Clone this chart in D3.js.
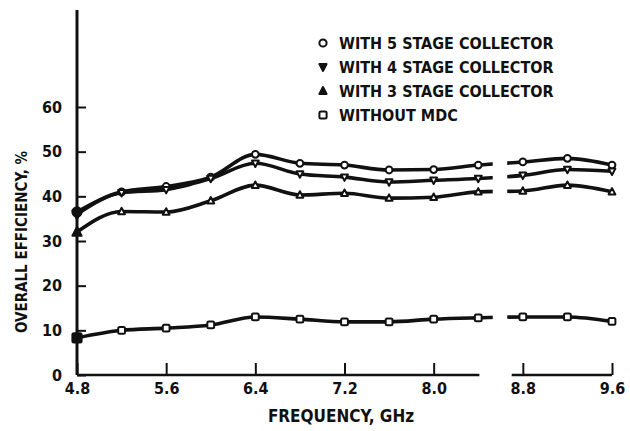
<!DOCTYPE html>
<html>
<head>
<meta charset="utf-8">
<script src="https://cdn.jsdelivr.net/npm/d3@7/dist/d3.min.js"></script>
<style>
  html, body { margin: 0; padding: 0; background: #fff; }
  svg text { font-family: 'DejaVu Sans Condensed', 'DejaVu Sans', sans-serif; font-stretch: condensed; font-weight: bold; fill: #111; }
</style>
</head>
<body>
<div id="chart"></div>
<script>
// Frequency points (GHz)
const freqs = [4.8, 5.2, 5.6, 6.0, 6.4, 6.8, 7.2, 7.6, 8.0, 8.4, 8.8, 9.2, 9.6];

// Overall efficiency (%) for each collector configuration
const stage5 = [36.5, 41, 42.2, 44.3, 49.4, 47.4, 47, 45.9, 46, 47, 47.7, 48.5, 47];
const stage4 = [36, 40.8, 41.5, 44, 47.4, 45, 44.3, 43.2, 43.6, 44, 44.7, 46, 45.6];
const stage3 = [32, 36.6, 36.5, 39, 42.5, 40.3, 40.7, 39.6, 39.8, 41, 41.2, 42.5, 41];
const noMdc  = [8.3, 10, 10.5, 11.2, 13, 12.5, 11.9, 11.9, 12.5, 12.8, 13, 13, 12];

const seriesNames = ['WITH 5 STAGE COLLECTOR', 'WITH 4 STAGE COLLECTOR', 'WITH 3 STAGE COLLECTOR', 'WITHOUT MDC'];
const seriesSymbols = ['circle', 'down', 'up', 'square'];

const xTicks = [4.8, 5.6, 6.4, 7.2, 8.0, 8.8, 9.6];
const yTicks = [0, 10, 20, 30, 40, 50, 60];

// broken-axis gaps (GHz)
const axisGap = [8.41, 8.70];
const lineGap = [8.53, 8.66];

const width = 630, height = 431;

const svg = d3.select('#chart').append('svg')
  .attr('width', width)
  .attr('height', height);

const x = d3.scaleLinear().domain([4.8, 9.6]).range([77, 612]);
const y = d3.scaleLinear().domain([0, 60]).range([375, 107]);

// Y axis
const yAxis = svg.append('g')
  .attr('transform', `translate(${x(4.8)},0)`)
  .call(d3.axisLeft(y).tickValues(yTicks).tickSizeInner(-9).tickSizeOuter(0).tickPadding(15));
yAxis.select('.domain').remove();
yAxis.selectAll('.tick line').attr('stroke', '#111').attr('stroke-width', 2);
yAxis.selectAll('.tick text').style('font-size', '16px');
svg.append('line')
  .attr('x1', x(4.8)).attr('x2', x(4.8))
  .attr('y1', 10).attr('y2', y(0))
  .attr('stroke', '#111').attr('stroke-width', 3);

// X axis
const xAxis = svg.append('g')
  .attr('transform', `translate(0,${y(0)})`)
  .call(d3.axisBottom(x).tickValues(xTicks).tickFormat(d3.format('.1f')).tickSizeInner(-12).tickSizeOuter(0).tickPadding(8));
xAxis.select('.domain').remove();
xAxis.selectAll('.tick line').attr('stroke', '#111').attr('stroke-width', 2);
xAxis.selectAll('.tick text').style('font-size', '16px');
[[4.8, axisGap[0]], [axisGap[1], 9.6]].forEach(([a, b]) => {
  svg.append('line')
    .attr('x1', x(a)).attr('x2', x(b))
    .attr('y1', y(0)).attr('y2', y(0))
    .attr('stroke', '#111').attr('stroke-width', 2.5);
});

// Axis titles
svg.append('text')
  .attr('x', 341)
  .attr('y', 422)
  .attr('text-anchor', 'middle')
  .style('font-size', '17px')
  .text('FREQUENCY, GHz');

svg.append('text')
  .attr('transform', 'translate(27,242) rotate(-90)')
  .attr('text-anchor', 'middle')
  .style('font-size', '15px')
  .text('OVERALL EFFICIENCY, %');

// Clip out the break in the data lines
const clip = svg.append('clipPath').attr('id', 'brk');
clip.append('rect').attr('x', 0).attr('y', 0).attr('width', x(lineGap[0])).attr('height', height);
clip.append('rect').attr('x', x(lineGap[1])).attr('y', 0).attr('width', width - x(lineGap[1])).attr('height', height);

const line = d3.line()
  .x((d, i) => x(freqs[i]))
  .y(d => y(d))
  .curve(d3.curveMonotoneX);

const allSeries = [stage5, stage4, stage3, noMdc];

allSeries.forEach(vals => {
  svg.append('path')
    .attr('d', line(vals))
    .attr('clip-path', 'url(#brk)')
    .attr('fill', 'none')
    .attr('stroke', '#111')
    .attr('stroke-width', 3.6);
});

function drawSymbol(g, kind, cx, cy, r, filled) {
  const fill = filled ? '#111' : '#fff';
  if (kind === 'circle') {
    g.append('circle').attr('cx', cx).attr('cy', cy).attr('r', r)
      .attr('fill', fill).attr('stroke', '#111').attr('stroke-width', 2);
  } else if (kind === 'square') {
    g.append('rect').attr('x', cx - r).attr('y', cy - r).attr('width', 2 * r).attr('height', 2 * r)
      .attr('rx', 1.5).attr('fill', fill).attr('stroke', '#111').attr('stroke-width', 2);
  } else {
    const s = kind === 'up' ? 1 : -1;
    const pts = [[cx, cy - s * r * 1.1], [cx + r, cy + s * r * 0.8], [cx - r, cy + s * r * 0.8]];
    g.append('path').attr('d', 'M' + pts.map(p => p.join(',')).join('L') + 'Z')
      .attr('fill', fill).attr('stroke', '#111').attr('stroke-width', 2).attr('stroke-linejoin', 'round');
  }
}

const markers = svg.append('g');
allSeries.forEach((vals, si) => {
  vals.forEach((v, i) => {
    drawSymbol(markers, seriesSymbols[si], x(freqs[i]), y(v), i === 0 ? 4.6 : 3.4, i === 0);
  });
});

// Legend
const legend = svg.append('g');
seriesNames.forEach((name, i) => {
  const ly = 43 + i * 24;
  drawSymbol(legend, seriesSymbols[i], 323, ly, 3.6, seriesSymbols[i] === 'down' || seriesSymbols[i] === 'up');
  legend.append('text')
    .attr('x', 339)
    .attr('y', ly + 6)
    .style('font-size', '16px')
    .text(name);
});
</script>
</body>
</html>
